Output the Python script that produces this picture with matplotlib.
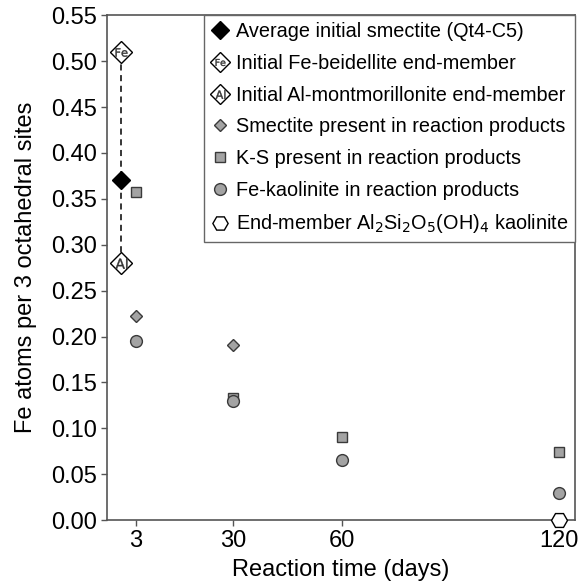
import numpy as np
import matplotlib.pyplot as plt
from matplotlib.lines import Line2D

plt.rcParams['font.family'] = ['Liberation Sans', 'DejaVu Sans']

# initial smectite and end-members (plotted just before day 3)
init_x = -1
avg_init = 0.37
fe_beid = 0.51
al_mont = 0.28

# reaction products
smec_days = [3, 30]
smec_fe = [0.222, 0.191]
ks_days = [3, 30, 60, 120]
ks_fe = [0.357, 0.133, 0.090, 0.074]
kaol_days = [3, 30, 60, 120]
kaol_fe = [0.195, 0.130, 0.066, 0.029]
end_kaol_days = [120]
end_kaol_fe = [0.0]

xticks = [3, 30, 60, 120]
yticks = np.arange(0, 0.551, 0.05)

fig = plt.figure(figsize=(5.84, 5.87), dpi=100)
ax = fig.add_axes([0.183, 0.114, 0.802, 0.860])

edge = '#3a3a3a'
gray = '#a3a3a3'

# dashed line between the two end-members
ax.plot([init_x, init_x], [al_mont, fe_beid], ls=(0, (4, 3)), color='k', lw=1.1, zorder=1)

ax.plot([init_x], [fe_beid], 'D', ms=11, mfc='white', mec='k', mew=1.0, zorder=3)
ax.plot([init_x], [fe_beid], marker='$\\mathrm{Fe}$', ms=8.5, color='#333333', mew=0.3, zorder=4)
ax.plot([init_x], [al_mont], 'D', ms=11, mfc='white', mec='k', mew=1.0, zorder=3)
ax.plot([init_x], [al_mont], marker='$\\mathrm{Al}$', ms=8.5, color='#333333', mew=0.3, zorder=4)
ax.plot([init_x], [avg_init], 'D', ms=9.5, color='k', zorder=3)

ax.plot(ks_days, ks_fe, 's', ms=7, mfc=gray, mec=edge, mew=1.0, zorder=3)
ax.plot(kaol_days, kaol_fe, 'o', ms=8.5, mfc=gray, mec=edge, mew=1.0, zorder=3)
ax.plot(smec_days, smec_fe, 'D', ms=6.5, mfc=gray, mec=edge, mew=1.0, zorder=3)
ax.plot(end_kaol_days, end_kaol_fe, 'H', ms=11.5, mfc='white', mec='k', mew=1.0, zorder=5, clip_on=False)

ax.set_xlim(-5, 124.5)
ax.set_ylim(0, 0.55)
ax.set_xticks(xticks)
ax.set_xticklabels([str(t) for t in xticks])
ax.set_yticks(yticks)
ax.set_yticklabels(['%.2f' % t for t in yticks])
ax.tick_params(direction='out', length=4, width=1.0, color='#555555', labelsize=17, pad=3)
for s in ax.spines.values():
    s.set_color('#555555')
    s.set_linewidth(1.2)

ax.set_xlabel('Reaction time (days)', fontsize=17, labelpad=5)
ax.set_ylabel('Fe atoms per 3 octahedral sites', fontsize=17, labelpad=10)

h_avg = Line2D([], [], ls='none', marker='D', ms=9, color='k')
h_fe = (Line2D([], [], ls='none', marker='D', ms=10, mfc='white', mec='k', mew=1.0),
        Line2D([], [], ls='none', marker='$\\mathrm{Fe}$', ms=7, color='#333333', mew=0.3))
h_al = (Line2D([], [], ls='none', marker='D', ms=10, mfc='white', mec='k', mew=1.0),
        Line2D([], [], ls='none', marker='$\\mathrm{Al}$', ms=7, color='#333333', mew=0.3))
h_smec = Line2D([], [], ls='none', marker='D', ms=6.5, mfc=gray, mec=edge, mew=1.0)
h_ks = Line2D([], [], ls='none', marker='s', ms=7, mfc=gray, mec=edge, mew=1.0)
h_kaol = Line2D([], [], ls='none', marker='o', ms=8.5, mfc=gray, mec=edge, mew=1.0)
h_end = Line2D([], [], ls='none', marker='H', ms=11, mfc='white', mec='k', mew=1.0)

labels = ['Average initial smectite (Qt4-C5)',
          'Initial Fe-beidellite end-member',
          'Initial Al-montmorillonite end-member',
          'Smectite present in reaction products',
          'K-S present in reaction products',
          'Fe-kaolinite in reaction products',
          'End-member Al$_2$Si$_2$O$_5$(OH)$_4$ kaolinite']
leg = ax.legend([h_avg, h_fe, h_al, h_smec, h_ks, h_kaol, h_end], labels,
                loc='upper right', bbox_to_anchor=(1, 1), borderaxespad=0,
                fontsize=14.3, handlelength=0.9, handletextpad=0.35,
                labelspacing=0.64, borderpad=0.35,
                fancybox=False, edgecolor='#666666', framealpha=1)
leg.get_frame().set_linewidth(1.0)

fig.savefig('out.png', dpi=100)
